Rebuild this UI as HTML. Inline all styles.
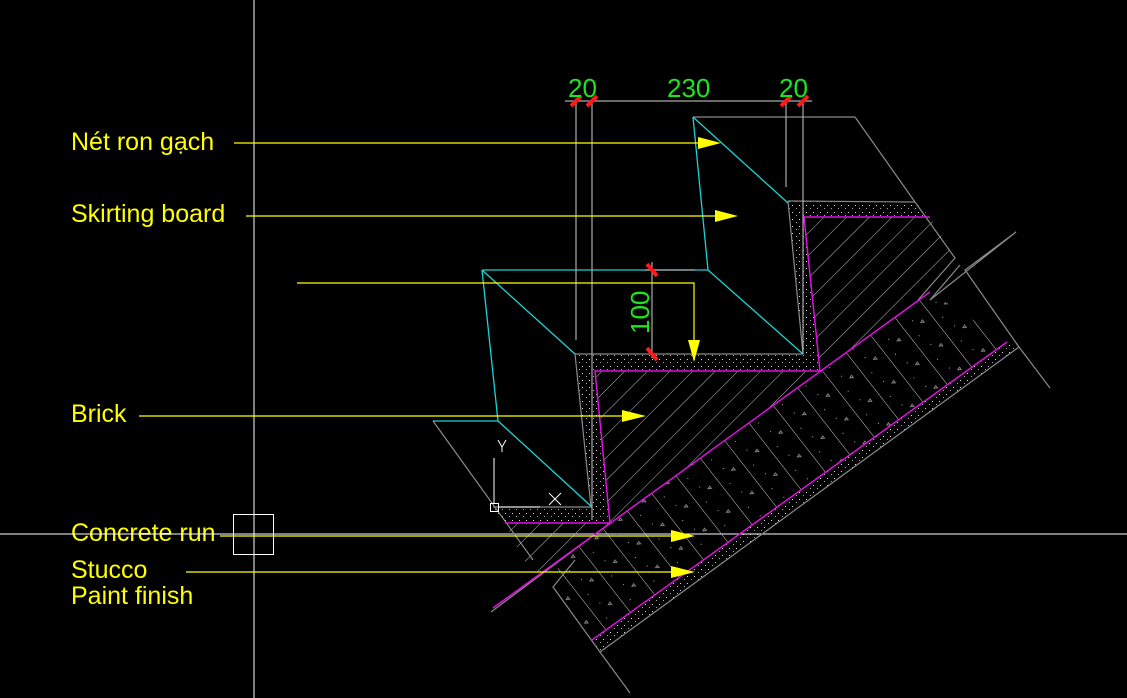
<!DOCTYPE html>
<html><head><meta charset="utf-8"><style>
html,body{margin:0;padding:0;background:#000;}
svg{display:block;}
text{font-family:"Liberation Sans",sans-serif;}
</style></head><body>
<svg width="1127" height="698" viewBox="0 0 1127 698" xmlns="http://www.w3.org/2000/svg">
<defs>
<pattern id="dots" width="7" height="7" patternUnits="userSpaceOnUse">
<rect x="1" y="2" width="1" height="1" fill="#ddd"/><rect x="5" y="5" width="1" height="1" fill="#aaa"/>
</pattern>
<pattern id="hb" width="16" height="16" patternUnits="userSpaceOnUse" patternTransform="rotate(-45)">
<line x1="0" y1="0" x2="16" y2="0" stroke="#bbb" stroke-width="1"/>
</pattern>
<pattern id="hs" width="30" height="30" patternUnits="userSpaceOnUse" patternTransform="rotate(52)">
<line x1="0" y1="0" x2="30" y2="0" stroke="#ccc" stroke-width="1"/>
<path d="M10 10 l3 0 l-2 3z" fill="none" stroke="#999" stroke-width="0.8"/>
<rect x="4" y="18" width="1" height="1" fill="#aaa"/><rect x="20" y="22" width="1" height="1" fill="#aaa"/>
</pattern>
</defs>
<rect width="1127" height="698" fill="#000"/>

<line x1="254" y1="0" x2="254" y2="698" stroke="#fff" stroke-width="1"/>
<line x1="0" y1="534" x2="1127" y2="534" stroke="#fff" stroke-width="1"/>
<rect x="233.5" y="514.5" width="40" height="40" fill="none" stroke="#fff"/>

<polygon points="560,560 930,292 1007,342 592,640 553,587" fill="url(#hs)"/>
<polygon points="592,640 1007,342 1019,347 600,652" fill="url(#dots)"/>
<polygon points="804,217 930,217 955,258 918,300 820,371" fill="url(#hb)"/>
<polygon points="595,371 820,371 610,523" fill="url(#hb)"/>
<polygon points="505,523 610,523 540,573 523,560" fill="url(#hb)"/>
<polygon points="788,201 915,202 930,217 804,217 820,371 595,371 610,523 505,523 493,507 591,507 575,354 803,354" fill="url(#dots)"/>

<g stroke="#8a8a8a" stroke-width="1.2" fill="none">
<polyline points="855,117 915,202 955,258 918,300"/>
<polyline points="788,201 915,202"/>
<polyline points="788,201 803,354 575,354 591,507 493,507"/>
<line x1="433" y1="421" x2="533" y2="560"/>
<line x1="491" y1="612" x2="610" y2="523"/>
<polyline points="575,560 553,587 600,652 1019,347 1050,388"/>
<line x1="600" y1="652" x2="630" y2="693"/>
<polyline points="930,300 1016,232 965,270 1019,347"/>
<line x1="930" y1="300" x2="960" y2="265"/>
</g>
<g stroke="#e010e0" stroke-width="1.5" fill="none">
<polyline points="930,217 804,217 820,371 595,371 610,523 505,523"/>
<line x1="493" y1="608" x2="930" y2="292"/>
<line x1="592" y1="640" x2="1007" y2="342"/>
</g>
<g stroke="#19d4d4" stroke-width="1.3" fill="none">
<line x1="693" y1="117" x2="855" y2="117" stroke="#8a8a8a"/>
<line x1="693" y1="117" x2="708" y2="270"/>
<line x1="693" y1="117" x2="788" y2="203"/>
<line x1="708" y1="270" x2="803" y2="354"/>
<line x1="482" y1="270" x2="708" y2="270"/>
<line x1="482" y1="270" x2="575" y2="354"/>
<line x1="482" y1="270" x2="498" y2="421"/>
<line x1="498" y1="421" x2="592" y2="507"/>
<line x1="433" y1="421" x2="498" y2="421"/>
</g>

<g stroke="#aaa" stroke-width="1.2">
<line x1="565" y1="101" x2="812" y2="101"/>
<line x1="576" y1="101" x2="576" y2="340"/>
<line x1="592" y1="101" x2="592" y2="520"/>
<line x1="786" y1="101" x2="786" y2="187"/>
<line x1="803" y1="101" x2="803" y2="354"/>
<line x1="652" y1="262" x2="652" y2="358"/>
<line x1="645" y1="270" x2="695" y2="270"/>
</g>
<g stroke="#ff1a1a" stroke-width="4">
<line x1="571" y1="106" x2="581" y2="96"/>
<line x1="587" y1="106" x2="597" y2="96"/>
<line x1="781" y1="106" x2="791" y2="96"/>
<line x1="798" y1="106" x2="808" y2="96"/>
<line x1="647" y1="264" x2="657" y2="276"/>
<line x1="647" y1="348" x2="657" y2="360"/>
</g>
<g fill="#1ee61e" font-size="26">
<text x="568" y="97">20</text>
<text x="667" y="97">230</text>
<text x="779" y="97">20</text>
<text transform="translate(649,334) rotate(-90)">100</text>
</g>

<g stroke="#fff" stroke-width="1" fill="none">
<line x1="494" y1="458" x2="494" y2="503"/>
<line x1="498" y1="507" x2="540" y2="507"/>
<rect x="490.5" y="503.5" width="8" height="8"/>
<polyline points="498,440 502,447 506,440"/><line x1="502" y1="447" x2="502" y2="452"/>
<line x1="549" y1="493" x2="561" y2="505"/><line x1="561" y1="493" x2="549" y2="505"/>
</g>

<g stroke="#ffff00" stroke-width="1.2" fill="none">
<line x1="234" y1="143" x2="702" y2="143"/>
<line x1="246" y1="216" x2="718" y2="216"/>
<polyline points="297,283 694,283 694,342"/>
<line x1="139" y1="416" x2="628" y2="416"/>
<line x1="220" y1="536" x2="675" y2="536"/>
<line x1="186" y1="572" x2="675" y2="572"/>
</g>
<g fill="#ffff00">
<polygon points="698,137 721,143 698,149"/>
<polygon points="715,210 738,216 715,222"/>
<polygon points="688,340 700,340 694,362"/>
<polygon points="622,410 646,416 622,422"/>
<polygon points="671,530 695,536 671,542"/>
<polygon points="671,566 695,572 671,578"/>
</g>
<g fill="#ffff00" font-size="25">
<text x="71" y="150">Nét ron gạch</text>
<text x="71" y="222">Skirting board</text>
<text x="71" y="422">Brick</text>
<text x="71" y="541">Concrete run</text>
<text x="71" y="578">Stucco</text>
<text x="71" y="604">Paint finish</text>
</g>
<line x1="0" y1="534" x2="254" y2="534" stroke="#fff" stroke-width="1"/>
</svg>
</body></html>
